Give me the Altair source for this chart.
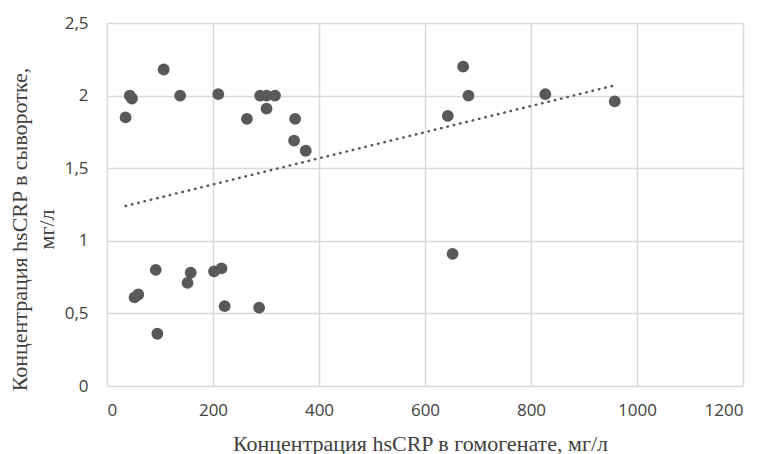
import altair as alt
import pandas as pd

# Концентрация hsCRP в гомогенате (x) и в сыворотке (y)
homogenate = [35, 43, 47, 107, 138, 210, 264, 289, 301, 317, 301, 355, 353, 375,
              92, 52, 59, 95, 152, 158, 202, 216, 222, 287,
              672, 682, 643, 827, 958, 652]
serum = [1.85, 2.00, 1.98, 2.18, 2.00, 2.01, 1.84, 2.00, 2.00, 2.00, 1.91, 1.84, 1.69, 1.62,
         0.80, 0.61, 0.63, 0.36, 0.71, 0.78, 0.79, 0.81, 0.55, 0.54,
         2.20, 2.00, 1.86, 2.01, 1.96, 0.91]

x_ticks = [0, 200, 400, 600, 800, 1000, 1200]
y_ticks = [0, 0.5, 1, 1.5, 2, 2.5]

df = pd.DataFrame({"x": homogenate, "y": serum})

grid_color = "#d9d9d9"
point_color = "#595959"
label_color = "#404040"

x_enc = alt.X(
    "x:Q",
    scale=alt.Scale(domain=[0, 1200], nice=False, zero=True),
    axis=alt.Axis(
        values=x_ticks,
        labelExpr="toString(datum.value)",
        title="Концентрация hsCRP в гомогенате, мг/л",
        grid=True, gridColor=grid_color, gridWidth=1.5,
        domain=False, ticks=False,
        labelFont="Open Sans", labelFontSize=17, labelColor=label_color,
        labelPadding=16,
        titleFont="Liberation Serif", titleFontSize=22, titleFontWeight="normal",
        titleColor="#404040", titleBaseline="alphabetic", titleAlign="center",
        titleX=313, titleY=64,
    ),
)
y_enc = alt.Y(
    "y:Q",
    scale=alt.Scale(domain=[0, 2.5], nice=False, zero=True),
    axis=alt.Axis(
        values=y_ticks,
        labelExpr="replace(toString(datum.value), '.', ',')",
        title=["Концентрация hsCRP в сыворотке,", "мг/л"],
        grid=True, gridColor=grid_color, gridWidth=1.5,
        domain=False, ticks=False,
        labelFont="Open Sans", labelFontSize=17, labelColor=label_color,
        labelPadding=19,
        titleFont="Liberation Serif", titleFontSize=22, titleFontWeight="normal",
        titleColor="#404040", titleBaseline="alphabetic", titleLineHeight=26.5,
        titleAlign="center", titleX=-80.5, titleY=206, titleAngle=270,
    ),
)

points = alt.Chart(df).mark_circle(size=140, color=point_color, opacity=1).encode(
    x=x_enc, y=y_enc
)

trend = (
    alt.Chart(df)
    .transform_regression("x", "y", method="linear")
    .mark_line(color=point_color, strokeWidth=2.5, strokeDash=[0.5, 6], strokeCap="round")
    .encode(x="x:Q", y="y:Q")
)

chart = (
    alt.layer(points, trend)
    .properties(
        width=636,
        height=363,
        autosize=alt.AutoSizeParams(type="none"),
        padding={"left": 99, "top": 15, "right": 14, "bottom": 72},
        background="white",
    )
    .configure_view(stroke=None)
)

chart.save("out.html", embed_options={"renderer": "svg", "actions": False})
